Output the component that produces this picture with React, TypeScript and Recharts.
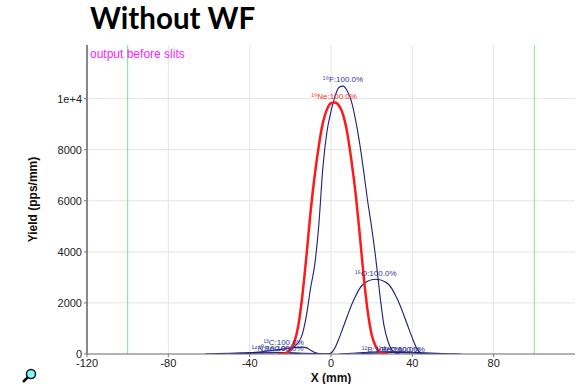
import React from 'react';
import {
  LineChart,
  Line,
  XAxis,
  YAxis,
  CartesianGrid,
  ReferenceLine,
  ReferenceDot,
} from 'recharts';

const NAVY = '#1e1e7c';
const RED = '#ff1a1a';

// 19Ne (red)
const neX = [-26, -24, -22, -20, -18, -16, -14, -12, -10, -8, -6, -4, -2, 0, 2, 4, 6, 8, 10, 12, 14, 16, 18, 20, 22, 24, 26, 28];
const neY = [0, 5, 40, 160, 470, 1150, 2350, 3900, 5600, 7000, 8150, 9050, 9580, 9820, 9850, 9720, 9350, 8650, 7600, 6350, 4800, 3100, 1700, 750, 290, 80, 20, 0];

// 19F
const fX = [-24, -22, -20, -18, -16, -14, -12, -10, -8, -6, -4, -2, 0, 2, 4, 6, 8, 10, 12, 14, 16, 18, 20, 22, 24, 26, 28, 30, 32, 34];
const fY = [10, 40, 120, 290, 450, 800, 1550, 2600, 3500, 5050, 7300, 8700, 9500, 10100, 10450, 10490, 10300, 9900, 9200, 8300, 7200, 6000, 4950, 3750, 2350, 1140, 500, 150, 30, 0];

// 16O
const oX = [-2, 0, 2, 4, 6, 8, 10, 12, 14, 16, 18, 20, 22, 24, 26, 28, 30, 32, 34, 36, 38, 40, 42, 44, 46];
const oY = [0, 40, 250, 620, 1050, 1480, 1900, 2250, 2550, 2750, 2850, 2910, 2930, 2910, 2850, 2750, 2550, 2250, 1900, 1480, 1050, 620, 250, 40, 0];

// 13C
const cX = [-46, -40, -34, -30, -26, -22, -18, -14, -12, -10, -8, -6, -4];
const cY = [0, 40, 90, 130, 170, 210, 250, 270, 240, 150, 60, 15, 0];

// small fragments near the baseline
const nX = [-62, -56, -50, -44, -38, -32, -28, -24, -20, -16, -12, -10];
const nY = [0, 15, 30, 45, 60, 70, 70, 60, 40, 20, 5, 0];
const beX = [-50, -44, -38, -32, -26, -20, -14, -8, -2, 0];
const beY = [0, 15, 30, 42, 50, 45, 30, 15, 3, 0];
const bX = [4, 10, 16, 22, 28, 34, 40, 46, 52, 58, 64];
const bY = [0, 30, 60, 80, 90, 85, 70, 45, 25, 10, 0];
const be11X = [12, 18, 24, 30, 36, 42, 48, 52];
const be11Y = [0, 25, 45, 60, 55, 35, 10, 0];

const labelText = ['¹⁹F:100.0%', '¹⁹Ne:100.0%', '¹⁶O:100.0%', '¹³C:100.0%', '¹⁴N:100.0%', '¹⁰Be:100.0%', '¹²B:100.0%', '¹¹Be:100.0%', '¹⁴C:100.0%'];
const labelX = [5.9, 1.5, 22, -23.3, -29, -24.5, 25, 33, 36];
const labelY = [10780, 10080, 3180, 470, 235, 235, 200, 200, 200];
const labelRed = [false, true, false, false, false, false, false, false, false];

const xTicks = [-120, -80, -40, 0, 40, 80];
const yTicks = [0, 2000, 4000, 6000, 8000, 10000];
const slitLines = [-100, 100];

const zip = (xs: number[], ys: number[]) => xs.map((x, i) => ({ x, y: ys[i] }));

const navySeries = [
  { key: 'n14', data: zip(nX, nY) },
  { key: 'be10', data: zip(beX, beY) },
  { key: 'b12', data: zip(bX, bY) },
  { key: 'be11', data: zip(be11X, be11Y) },
  { key: 'c13', data: zip(cX, cY) },
  { key: 'o16', data: zip(oX, oY) },
  { key: 'f19', data: zip(fX, fY) },
];
const neData = zip(neX, neY);

const font = '"Liberation Sans", Arial, sans-serif';
const emptyTick = () => <g />;

const Magnifier = () => (
  <svg width={16} height={16} style={{ position: 'absolute', left: 21, top: 368 }}>
    <line x1={2} y1={14} x2={7} y2={9} stroke="#111" strokeWidth={2.5} />
    <circle cx={10} cy={6} r={4.5} fill="#7ff" stroke="#111" strokeWidth={1.5} />
  </svg>
);

export default function App() {
  return (
    <div style={{ position: 'relative', width: 576, height: 384, background: '#fff', fontFamily: font }}>
      <style>{'body{margin:0}'}</style>
      <div
        style={{
          position: 'absolute',
          left: 90,
          top: 0,
          fontFamily: 'Lato, "Open Sans", sans-serif',
          fontWeight: 700,
          fontSize: 29.5,
          color: '#000',
        }}
      >
        Without WF
      </div>
      <LineChart width={576} height={384} data={neData} margin={{ top: 45, right: 1, bottom: 0, left: 27 }}>
        <CartesianGrid stroke="#e4e4e4" horizontalValues={yTicks} verticalValues={xTicks} />
        <XAxis
          type="number"
          dataKey="x"
          domain={[-120, 120]}
          ticks={xTicks}
          allowDataOverflow
          height={30}
          tickSize={3}
          axisLine={{ stroke: '#777' }}
          tickLine={{ stroke: '#777' }}
          tick={{ fontSize: 11, fill: '#222', fontFamily: font }}
          label={{ value: 'X (mm)', position: 'center', dy: 9, fontSize: 12, fontWeight: 700, fill: '#111', fontFamily: font }}
        />
        <XAxis
          xAxisId="top"
          orientation="top"
          type="number"
          domain={[-120, 120]}
          ticks={xTicks}
          height={0}
          mirror
          tickSize={3}
          tick={emptyTick}
          axisLine={{ stroke: '#777' }}
          tickLine={{ stroke: '#777' }}
        />
        <YAxis
          type="number"
          domain={[0, 12100]}
          ticks={yTicks}
          allowDataOverflow
          width={60}
          tickSize={3}
          axisLine={{ stroke: '#888', strokeWidth: 2 }}
          tickLine={{ stroke: '#777' }}
          tickFormatter={(v: number) => (v === 10000 ? '1e+4' : String(v))}
          tick={{ fontSize: 11, fill: '#222', fontFamily: font }}
          label={{ value: 'Yield (pps/mm)', angle: -90, position: 'center', dx: -24, fontSize: 12, fontWeight: 700, fill: '#111', fontFamily: font }}
        />
        <YAxis
          yAxisId="right"
          orientation="right"
          type="number"
          domain={[0, 12100]}
          ticks={yTicks}
          width={0}
          mirror
          tickSize={3}
          tick={emptyTick}
          axisLine={{ stroke: '#777' }}
          tickLine={{ stroke: '#777' }}
        />
        {slitLines.map((x) => (
          <ReferenceLine key={x} x={x} stroke="#7de87d" strokeWidth={1} />
        ))}
        {navySeries.map((s) => (
          <Line
            key={s.key}
            data={s.data}
            dataKey="y"
            type="monotone"
            stroke={NAVY}
            strokeWidth={1.1}
            dot={false}
            isAnimationActive={false}
          />
        ))}
        <Line data={neData} dataKey="y" type="monotone" stroke={RED} strokeWidth={2.5} dot={false} isAnimationActive={false} />
        {labelText.map((t, i) => (
          <ReferenceDot
            key={t}
            x={labelX[i]}
            y={labelY[i]}
            r={0.1}
            fill="none"
            stroke="none"
            ifOverflow="visible"
            label={{
              value: t,
              position: 'center',
              fontSize: 8,
              fill: labelRed[i] ? '#ff2a2a' : '#34349a',
              fontFamily: font,
            }}
          />
        ))}
      </LineChart>
      <div style={{ position: 'absolute', left: 90, top: 47, color: '#ff22ff', fontSize: 12, fontFamily: font }}>
        output before slits
      </div>
      <Magnifier />
    </div>
  );
}
